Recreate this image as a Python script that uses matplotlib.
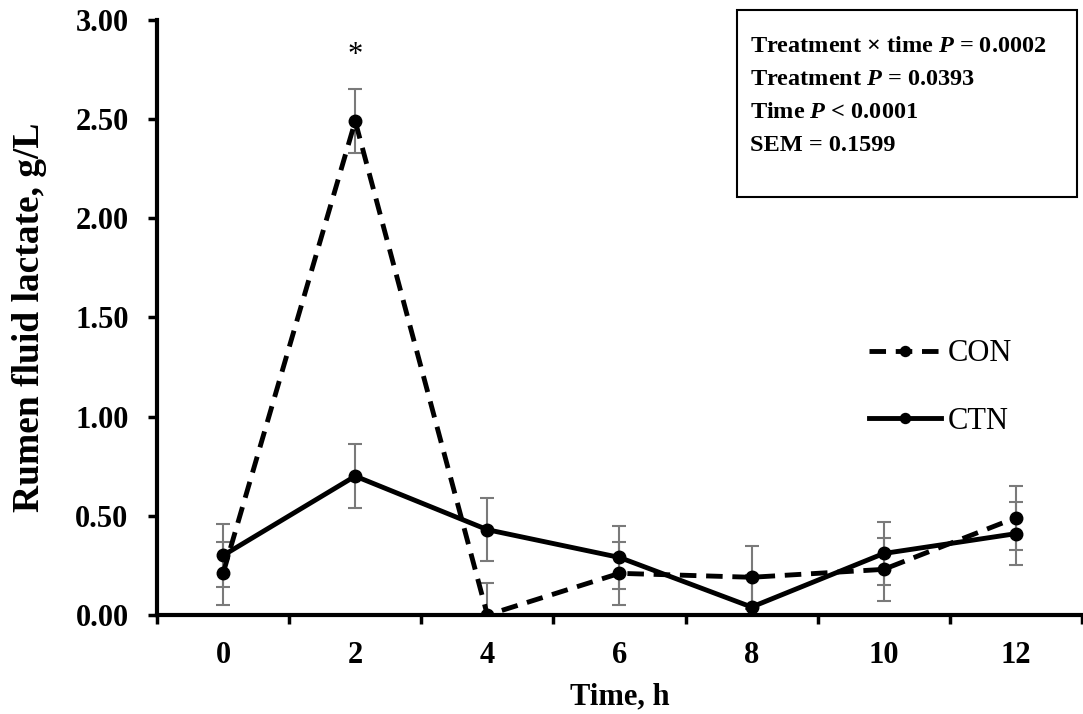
import matplotlib
matplotlib.use('Agg')
import matplotlib.pyplot as plt
from matplotlib.patches import Rectangle

# values
times = ['0', '2', '4', '6', '8', '10', '12']
con = [0.21, 2.49, 0.00, 0.21, 0.19, 0.23, 0.49]
ctn = [0.30, 0.70, 0.43, 0.29, 0.04, 0.31, 0.41]
sem = 0.16
stats_lines = ['Treatment \u00d7 time $P$ = 0.0002',
               'Treatment $P$ = 0.0393',
               'Time $P$ < 0.0001',
               'SEM = 0.1599']


def main():
    plt.rcParams['font.family'] = 'Liberation Serif'
    plt.rcParams['mathtext.fontset'] = 'custom'
    plt.rcParams['mathtext.it'] = 'Liberation Serif:italic:bold'
    plt.rcParams['mathtext.rm'] = 'Liberation Serif:bold'

    fig = plt.figure(figsize=(10.83, 7.14), dpi=100)
    ax = fig.add_axes([0.145, 0.1387, 0.854, 0.8333])

    x = list(range(len(times)))
    err_kw = dict(ecolor='#7a7a7a', elinewidth=1.5, capsize=4.7, capthick=1.5)
    ax.errorbar(x, con, yerr=sem, fmt='none', zorder=2, **err_kw)
    ax.errorbar(x, ctn, yerr=sem, fmt='none', zorder=2, **err_kw)
    ax.plot(x, con, color='black', lw=3.5, ls=(0, (3.4, 2.0)), marker='o',
            ms=9, label='CON', zorder=3)
    ax.plot(x, ctn, color='black', lw=3.5, ls='-', marker='o',
            ms=9, label='CTN', zorder=3)

    ax.text(1, 2.82, '*', ha='center', va='center', fontsize=22)

    ax.set_xlim(-0.5, 6.5)
    ax.set_ylim(0, 3.0)
    ax.set_xticks([i - 0.5 for i in range(len(times) + 1)])
    ax.set_xticklabels([])
    ax.set_xticks(x, minor=True)
    ax.set_xticklabels(times, minor=True, fontsize=22, fontweight='bold')
    ax.tick_params(axis='x', which='minor', length=0, pad=19)
    ax.tick_params(axis='x', which='major', length=6.5, width=2.5, direction='out')
    ax.set_yticks([0, 0.5, 1.0, 1.5, 2.0, 2.5, 3.0])
    ax.set_yticklabels(['%.2f' % v for v in ax.get_yticks()],
                       fontsize=22, fontweight='bold')
    ax.tick_params(axis='y', length=6.5, width=2.5, direction='out', pad=14)

    for side in ['top', 'right']:
        ax.spines[side].set_visible(False)
    for side in ['left', 'bottom']:
        ax.spines[side].set_linewidth(3)

    ax.set_xlabel('Time, h', fontsize=22, fontweight='bold', labelpad=9)
    ax.set_ylabel('Rumen fluid lactate, g/L', fontsize=27, fontweight='bold',
                  labelpad=20)

    ax.legend(loc='center left', bbox_to_anchor=(0.770, 0.382), frameon=False,
              fontsize=22, handlelength=2.36, handletextpad=0.2,
              labelspacing=1.26, borderaxespad=0, borderpad=0,
              markerscale=0.8)

    # stats box
    fig.patches.append(Rectangle((0.6805, 0.724), 0.314, 0.262,
                                 transform=fig.transFigure, fill=False,
                                 edgecolor='black', lw=1.5))
    for i, line in enumerate(stats_lines):
        fig.text(750 / 1083, 1 - (52 + 33 * i) / 714, line, fontsize=17.5,
                 fontweight='bold', va='baseline', ha='left')

    fig.savefig('out.png', dpi=100)
    plt.close(fig)


if __name__ == '__main__':
    main()
